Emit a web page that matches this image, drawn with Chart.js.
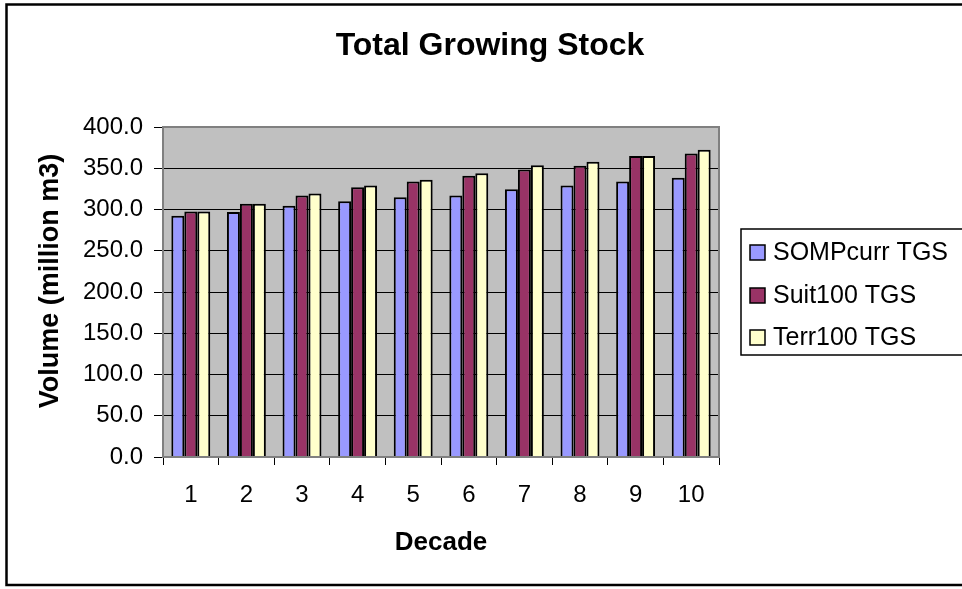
<!DOCTYPE html>
<html>
<head>
<meta charset="utf-8">
<script src="https://cdn.jsdelivr.net/npm/chart.js@4/dist/chart.umd.min.js"></script>
<style>
  body { margin: 0; background: #fff; }
  canvas { display: block; }
</style>
</head>
<body>
<canvas id="grafico" width="962" height="589"></canvas>
<script>
// data
var decades = ['1', '2', '3', '4', '5', '6', '7', '8', '9', '10'];
var sompcurr = [292.5, 297, 304.5, 310, 315, 317, 324.5, 329, 334, 338.5];
var suit100 = [297.5, 307, 317, 327, 334, 341, 348.5, 353, 365, 368];
var terr100 = [297.5, 307, 319.5, 329, 336, 344, 353.5, 358, 365, 372.5];
var seriesNames = ['SOMPcurr TGS', 'Suit100 TGS', 'Terr100 TGS'];
var chartTitle = 'Total Growing Stock';
var xTitle = 'Decade';
var yTitle = 'Volume (million m3)';

var font = '"Liberation Sans", Arial, sans-serif';

/* background, frame, titles and legend */
var decor = {
  id: 'decor',
  beforeDraw: function(chart) {
    var ctx = chart.ctx, a = chart.chartArea;
    ctx.save();
    ctx.fillStyle = '#fff';
    ctx.fillRect(0, 0, chart.width, chart.height);
    ctx.fillStyle = '#c0c0c0';
    ctx.fillRect(a.left, a.top, a.right - a.left, a.bottom - a.top);
    ctx.restore();
  },
  afterDraw: function(chart) {
    var ctx = chart.ctx, a = chart.chartArea;
    ctx.save();
    // plot border
    ctx.strokeStyle = '#808080';
    ctx.lineWidth = 2;
    ctx.strokeRect(a.left, a.top, a.right - a.left, a.bottom - a.top);

    // outer frame (right side is cut off)
    ctx.strokeStyle = '#000';
    ctx.lineWidth = 2.5;
    ctx.beginPath();
    ctx.moveTo(970, 4.5);
    ctx.lineTo(6.5, 4.5);
    ctx.lineTo(6.5, 585);
    ctx.lineTo(970, 585);
    ctx.stroke();

    // titles
    ctx.fillStyle = '#000';
    ctx.textAlign = 'center';
    ctx.textBaseline = 'middle';
    ctx.font = 'bold 32px ' + font;
    ctx.fillText(chartTitle, 490, 46);
    ctx.font = 'bold 26px ' + font;
    ctx.fillText(xTitle, 441, 543);
    ctx.font = 'bold 27px ' + font;
    ctx.translate(51, 281);
    ctx.rotate(-Math.PI / 2);
    ctx.fillText(yTitle, 0, 0);
    ctx.setTransform(1, 0, 0, 1, 0, 0);

    // legend
    ctx.strokeStyle = '#000';
    ctx.lineWidth = 1.5;
    ctx.strokeRect(741, 229, 240, 126);
    ctx.font = '25px ' + font;
    ctx.textAlign = 'left';
    var ys = [252, 295, 337];
    chart.data.datasets.forEach(function(ds, i) {
      ctx.fillStyle = ds.backgroundColor;
      ctx.fillRect(750, ys[i] - 7, 15, 15);
      ctx.lineWidth = 1.5;
      ctx.strokeRect(750, ys[i] - 7, 15, 15);
      ctx.fillStyle = '#000';
      ctx.fillText(ds.label, 773, ys[i] + 1);
    });
    ctx.restore();
  }
};

var chardata = {
  labels: decades,
  datasets: [
    { label: seriesNames[0], data: sompcurr, backgroundColor: '#9999ff' },
    { label: seriesNames[1], data: suit100, backgroundColor: '#993366' },
    { label: seriesNames[2], data: terr100, backgroundColor: '#ffffcc' }
  ]
};

chardata.datasets.forEach(function(ds) {
  ds.borderColor = '#000';
  ds.borderWidth = 2;
  ds.categoryPercentage = 0.7;
  ds.barPercentage = 1.0;
});

var ctx = document.getElementById('grafico');
var barGraph = new Chart(ctx, {
  type: 'bar',
  data: chardata,
  plugins: [decor],
  options: {
    responsive: false,
    animation: false,
    layout: { padding: { top: 127, right: 243, left: 0, bottom: 0 } },
    plugins: {
      legend: { display: false },
      title: { display: false },
      tooltip: { enabled: false }
    },
    scales: {
      x: {
        afterFit: function(s) { s.height = 589 - 457; },
        grid: {
          offset: true,
          drawOnChartArea: false,
          drawTicks: true,
          tickLength: 8,
          color: '#000',
          lineWidth: 1
        },
        border: { display: false },
        ticks: {
          color: '#000',
          font: { family: font, size: 24 },
          padding: 16,
          maxRotation: 0
        }
      },
      y: {
        min: 0,
        max: 400,
        afterFit: function(s) { s.width = 163; },
        grid: {
          color: '#000',
          lineWidth: 1,
          drawTicks: true,
          tickLength: 9
        },
        border: { display: false },
        ticks: {
          stepSize: 50,
          color: '#000',
          font: { family: font, size: 24 },
          padding: 11,
          callback: function(v) { return v.toFixed(1); }
        }
      }
    }
  }
});
</script>
</body>
</html>
